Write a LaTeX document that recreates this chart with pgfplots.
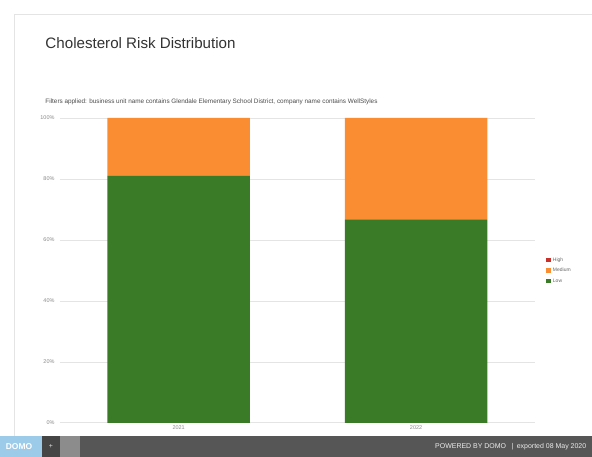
\documentclass[border=0pt]{standalone}
\usepackage{pgfplots}
\pgfplotsset{compat=1.18}
\usepackage{fontspec}
\setmainfont{Liberation Sans}
\definecolor{lowgreen}{HTML}{3A7B28}
\definecolor{medorange}{HTML}{FA8C32}
\definecolor{highred}{HTML}{C8302C}
\definecolor{footer}{HTML}{565656}
\definecolor{plusbox}{HTML}{454545}
\definecolor{graybox}{HTML}{8C8C8C}
\definecolor{gridgray}{HTML}{E4E4E4}
\definecolor{ticktext}{HTML}{8A8A8A}
\definecolor{logoblue}{HTML}{9CCBEA}
\begin{document}
\begin{tikzpicture}[x=1bp,y=1bp]
% page and frame
\fill[white] (0,0) rectangle (592,457);
\draw[gridgray, line width=0.6bp] (14,21) -- (14,443) -- (592,443);
% title and filter note
\node[anchor=west, text=black!80, font=\fontsize{15.2}{17}\selectfont] at (42,414) {Cholesterol Risk Distribution};
\node[anchor=west, text=black!70, font=\fontsize{6.4}{7.5}\selectfont] at (42,355) {Filters applied: business unit name contains Glendale Elementary School District, company name contains WellStyles};
\begin{axis}[
  at={(60bp,34bp)}, anchor=south west,
  scale only axis, width=475bp, height=305bp,
  xmin=-0.5, xmax=1.5, ymin=0, ymax=100,
  axis line style={draw=none},
  ybar stacked, bar width=0.6,
  xtick={0,1}, xticklabels={2021,2022},
  ytick={0,20,40,60,80,100},
  yticklabel={\pgfmathprintnumber{\tick}\%},
  /pgf/number format/assume math mode=true,
  ticklabel style={font=\fontsize{5.5}{6.5}\selectfont, text=ticktext},
  ymajorgrids, grid style={gridgray, line width=0.6bp},
  major tick length=0pt,
  xticklabel style={yshift=1bp},
  yticklabel style={xshift=-2bp},
  clip=false,
  legend style={at={(1.018,0.555)}, anchor=north west, draw=none, fill=none,
    font=\fontsize{5}{6}\selectfont, text=black!60,
    legend cell align=left, row sep=1.5bp},
  legend image code/.code={\fill[#1] (0bp,-2bp) rectangle (4.5bp,2.5bp);},
]
\addlegendimage{fill=highred, draw=none}
\addlegendentry{High}
\addlegendimage{fill=medorange, draw=none}
\addlegendentry{Medium}
\addlegendimage{fill=lowgreen, draw=none}
\addlegendentry{Low}
\addplot[fill=lowgreen, draw=none, forget plot] coordinates {(0,81) (1,66.7)};
\addplot[fill=medorange, draw=none, forget plot] coordinates {(0,19) (1,33.3)};
\end{axis}
% footer bar
\fill[footer] (0,0) rectangle (592,21);
\fill[logoblue] (0,0) rectangle (42,21);
\node[text=white, font=\bfseries\fontsize{8.5}{9}\selectfont] at (19,10.5) {DOMO};
\fill[plusbox] (42,0) rectangle (60,21);
\node[text=white!75!gray, font=\fontsize{7}{8}\selectfont] at (51,10.5) {+};
\fill[graybox] (60,0) rectangle (80,21);
\node[anchor=east, text=white!85!gray, font=\fontsize{7}{8}\selectfont] at (590,10.5) {POWERED BY DOMO \enspace|\enspace exported 08 May 2020};
\end{tikzpicture}
\end{document}
